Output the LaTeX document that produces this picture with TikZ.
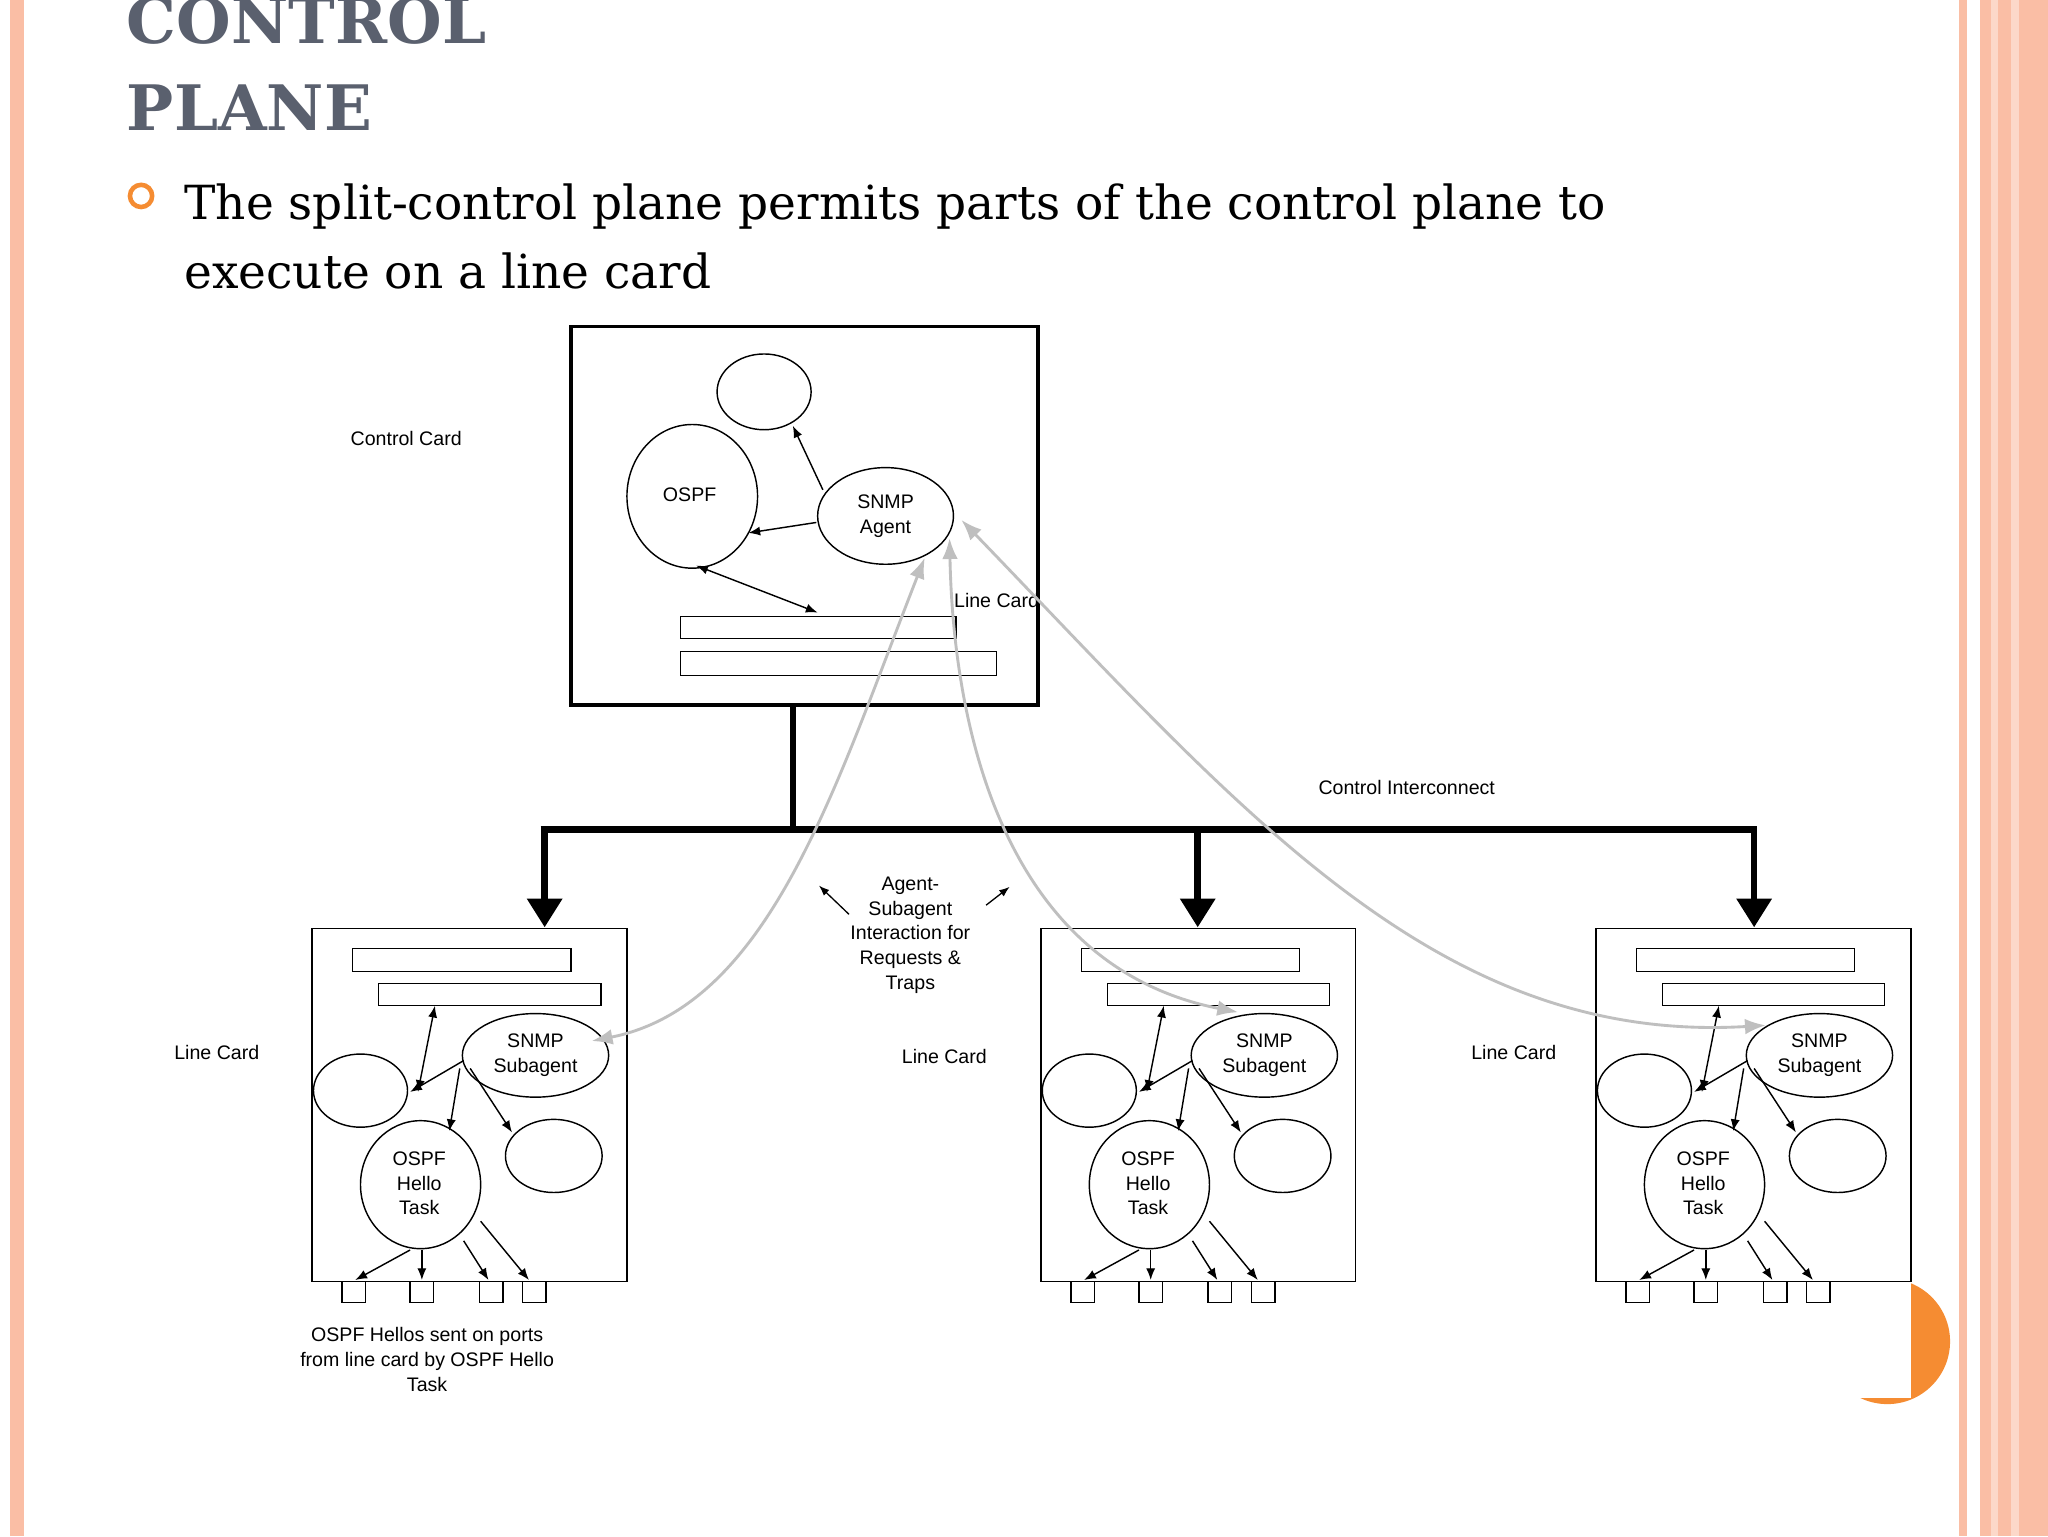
\documentclass[tikz,border=0pt]{standalone}
\usepackage{fontspec}
\setmainfont{DejaVu Serif}
\newfontfamily\diag{Liberation Sans}
\usetikzlibrary{arrows.meta}
\definecolor{salmon}{RGB}{250,190,165}
\definecolor{titlec}{RGB}{90,96,110}
\definecolor{orng}{RGB}{245,140,50}
\tikzset{
 lbl/.style={font=\diag\fontsize{15}{19}\selectfont,align=center,inner sep=0pt},
 el/.style={draw,line width=1.1pt},
 bx/.style={draw,line width=1.1pt,fill=white},
 ar/.style={line width=1.1pt,-{Latex[length=9pt,width=7pt]}},
 dar/.style={line width=1.1pt,{Latex[length=9pt,width=7pt]}-{Latex[length=9pt,width=7pt]}},
 gar/.style={draw=gray!50,line width=2.2pt,{Latex[length=16pt,width=12pt]}-{Latex[length=16pt,width=12pt]}},
 bus/.style={line width=5pt},
 bigar/.style={line width=5pt,-{Triangle[length=22pt,width=26pt]}}
}
\begin{document}
\begin{tikzpicture}[x=1pt,y=-1pt]
\useasboundingbox (0,0) rectangle (1568,1176);
\fill[white] (0,0) rectangle (1568,1176);
% borders
\fill[salmon] (8,0) rectangle (18,1176);
\fill[salmon] (1500,0) rectangle (1506,1176);
\fill[salmon] (1516,0) rectangle (1568,1176);
\fill[salmon!60] (1524,0) rectangle (1530,1176);
\fill[salmon!60] (1540,0) rectangle (1546,1176);
% title
\node[anchor=base west,inner sep=0pt,text=titlec,font=\bfseries\fontsize{48}{48}\selectfont] (t1) at (97,33) {CONTROL};
\node[anchor=base west,inner sep=0pt,text=titlec,font=\bfseries\fontsize{48}{48}\selectfont] (t2) at (97,100) {PLANE};
\draw[orng,line width=3.5pt] (108,150) circle (8.5);
\node[anchor=base west,inner sep=0pt,font=\fontsize{36}{52}\selectfont] (b1) at (141,168) {The split-control plane permits parts of the control plane to};
\node[anchor=base west,inner sep=0pt,font=\fontsize{36}{52}\selectfont] (b2) at (141,221) {execute on a line card};
% orange corner
\fill[orng] (1445,1027) circle (48);
\fill[white] (1380,975) rectangle (1463,1070);
% control card
\draw[line width=3pt] (437,250) rectangle (795,540);
\draw[el] (585,300) ellipse (36 and 29);
\draw[el] (530,380) ellipse (50 and 55);
\draw[el] (678,395) ellipse (52 and 37);
\node[lbl] (ospf) at (528,379) {OSPF};
\node[lbl] (snmp) at (678,395) {SNMP\\Agent};
\draw[el] (521,472) rectangle (732,489);
\draw[el] (521,499) rectangle (763,517);
\coordinate (a1) at (630,375); \coordinate (a2) at (607,326);
\coordinate (a3) at (625,400); \coordinate (a4) at (573,408);
\coordinate (a5) at (533,433); \coordinate (a6) at (626,469);
\draw[ar] (a1) -- (a2); \draw[ar] (a3) -- (a4); \draw[dar] (a5) -- (a6);
\node[lbl] (cc) at (311,336) {Control Card};
\node[lbl] (lc0) at (763,460) {Line Card};
% bus
\draw[bus] (607,540) -- (607,637);
\draw[bus] (414,635) -- (1345,635);
\coordinate (d1) at (417,635); \coordinate (d2) at (917,635); \coordinate (d3) at (1343,635);
\draw[bigar] (d1) -- (417,710);
\draw[bigar] (d2) -- (917,710);
\draw[bigar] (d3) -- (1343,710);
\node[lbl] (ci) at (1077,603) {Control Interconnect};
% line cards
\foreach \dx/\n in {0/1,558/2,983/3}{
 \begin{scope}[xshift=\dx]
 \draw[bx] (239,711) rectangle (480,981);
 \draw[el] (270,726) rectangle (437,744);
 \draw[el] (290,753) rectangle (460,770);
 \draw[el] (410,808) ellipse (56 and 32);
 \draw[el] (276,835) ellipse (36 and 28);
 \draw[el] (322,907) ellipse (46 and 49);
 \draw[el] (424,885) ellipse (37 and 28);
 \node[lbl] (s\n) at (410,808) {SNMP\\Subagent};
 \node[lbl] (h\n) at (321,906) {OSPF\\Hello\\Task};
 \foreach \px in {262,314,367,400}{\draw[el,fill=white] (\px,981) rectangle ++(18,16);}
 \draw[dar] (333,770) -- (320,836);
 \draw[ar] (355,812) -- (314,836);
 \draw[ar] (352,818) -- (344,866);
 \draw[ar] (360,818) -- (392,867);
 \draw[ar] (314,957) -- (272,980);
 \draw[ar] (323,957) -- (323,980);
 \draw[ar] (355,950) -- (374,980);
 \draw[ar] (368,935) -- (405,980);
 \end{scope}}
\node[lbl] (l1) at (166,806) {Line Card};
\node[lbl] (l2) at (723,809) {Line Card};
\node[lbl] (l3) at (1159,806) {Line Card};
\node[lbl] (hel) at (327,1041) {OSPF Hellos sent on ports\\from line card by OSPF Hello\\Task};
% gray interaction curves
\coordinate (g1a) at (453,797); \coordinate (g1b) at (708,427);
\coordinate (g2a) at (948,775); \coordinate (g2b) at (727,412);
\coordinate (g3a) at (1352,785); \coordinate (g3b) at (736,398);
\draw[gar] (g1a) .. controls (590,770) and (640,600) .. (g1b);
\draw[gar] (g2a) .. controls (770,740) and (730,560) .. (g2b);
\draw[gar] (g3a) .. controls (1100,800) and (950,620) .. (g3b);
\node[lbl] (asi) at (697,716) {Agent-\\Subagent\\Interaction for\\Requests \&\\Traps};
\coordinate (k1) at (650,700); \coordinate (k2) at (627,678);
\coordinate (k3) at (755,693); \coordinate (k4) at (773,679);
\draw[line width=1pt,-{Latex[length=8pt,width=6pt]}] (k1) -- (k2);
\draw[line width=1pt,-{Latex[length=8pt,width=6pt]}] (k3) -- (k4);
\end{tikzpicture}
\end{document}
